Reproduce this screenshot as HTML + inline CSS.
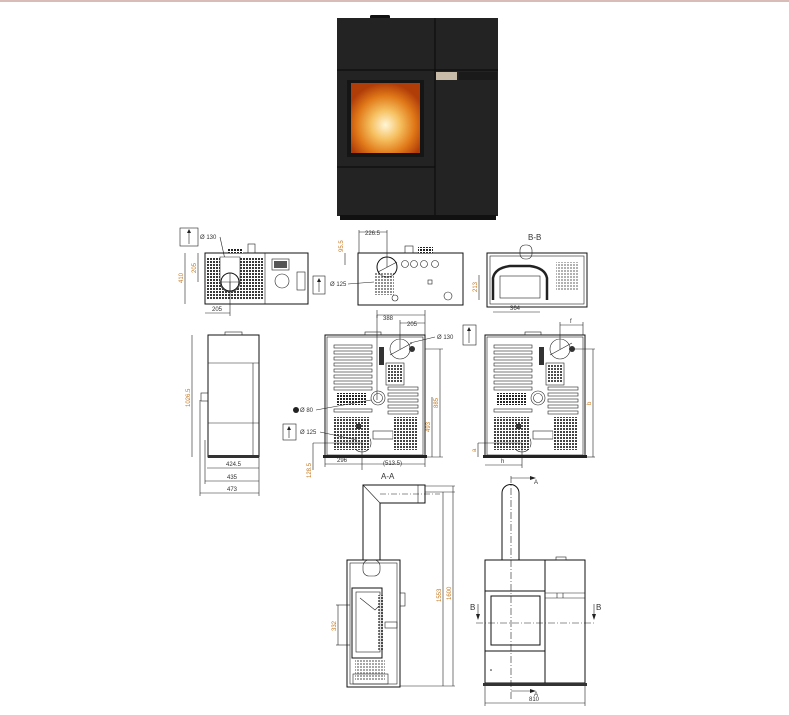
<!DOCTYPE html>
<html><head><meta charset="utf-8"><style>
html,body{margin:0;padding:0;background:#fff;}
svg{display:block;font-family:"Liberation Sans",sans-serif;}
.d{stroke:#222;stroke-width:0.6;fill:none}
.b{stroke:#111;stroke-width:1;fill:none}
.t{font-size:6px;fill:#333}
.o{font-size:6px;fill:#c87a20}
</style></head><body>
<svg width="789" height="715" viewBox="0 0 789 715" xmlns="http://www.w3.org/2000/svg">
<defs>
<radialGradient id="fire" cx="50%" cy="60%" r="60%">
<stop offset="0" stop-color="#fff6d8"/><stop offset="0.35" stop-color="#f6c060"/><stop offset="0.7" stop-color="#e07818"/><stop offset="1" stop-color="#b03c08"/>
</radialGradient>
<pattern id="grl" width="3" height="3" patternUnits="userSpaceOnUse"><rect width="3" height="3" fill="#fff"/><rect width="2" height="2" fill="#222"/></pattern>
<g id="back">
 <rect x="0" y="0" width="100" height="122" class="b" stroke-width="1.3"/>
 <rect x="2" y="2" width="96" height="118" class="d"/>
 <rect x="40" y="-3" width="16" height="3" class="d"/>
 <g class="d">
  <rect x="9" y="10" width="38" height="3"/><rect x="9" y="16" width="38" height="3"/><rect x="9" y="22" width="38" height="3"/><rect x="9" y="28" width="38" height="3"/><rect x="9" y="34" width="38" height="3"/><rect x="9" y="40" width="38" height="3"/><rect x="9" y="46" width="38" height="3"/><rect x="9" y="52" width="38" height="3"/><rect x="9" y="74" width="38" height="3"/>
  <rect x="63" y="52" width="30" height="3"/><rect x="63" y="58" width="30" height="3"/><rect x="63" y="64" width="30" height="3"/><rect x="63" y="70" width="30" height="3"/><rect x="63" y="76" width="30" height="3"/>
  <rect x="61" y="28" width="18" height="22"/>
  <circle cx="75" cy="14" r="10"/><circle cx="53" cy="63" r="7"/><circle cx="53" cy="63" r="4.5"/><circle cx="37" cy="108" r="9"/>
  <line x1="65" y1="20" x2="87" y2="8"/><line x1="30" y1="108" x2="44" y2="108"/>
  <rect x="48" y="96" width="20" height="8"/>
 </g>
 <rect x="54" y="12" width="5" height="18" fill="#333"/>
 <rect x="62" y="30" width="16" height="18" fill="url(#grl)" opacity="0.8"/>
 <rect x="12" y="58" width="30" height="12" fill="url(#grl)"/>
 <rect x="8" y="82" width="37" height="33" fill="url(#grl)" opacity="0.85"/>
 <rect x="68" y="82" width="25" height="33" fill="url(#grl)" opacity="0.85"/>
 <rect x="31" y="89" width="5" height="5" fill="#333"/>
 <circle cx="87" cy="14" r="3" fill="#333"/>
 <rect x="-2" y="120" width="104" height="3" fill="#222"/>
</g>
</defs>
<rect x="0" y="0" width="789" height="2" fill="#d9bcb8"/>

<!-- photo -->
<rect x="370" y="15" width="20" height="4" rx="1.5" fill="#111"/>
<rect x="337" y="18" width="161" height="198" fill="#232323"/>
<line x1="337" y1="70" x2="498" y2="70" stroke="#0d0d0d" stroke-width="1.2"/>
<line x1="435" y1="18" x2="435" y2="216" stroke="#0d0d0d" stroke-width="1.2"/>
<line x1="337" y1="167" x2="435" y2="167" stroke="#0d0d0d" stroke-width="1.2"/>
<rect x="347" y="80" width="77" height="77" fill="#151515"/>
<rect x="351" y="83" width="69" height="70" fill="url(#fire)"/>
<rect x="436" y="72" width="21" height="8" fill="#c8bca8"/>
<rect x="459" y="72" width="38" height="8" fill="#1a1a1a"/>
<rect x="340" y="215" width="156" height="5" fill="#111"/>

<!-- top view 1 -->
<g>
<rect x="180" y="228" width="18" height="18" class="d"/><line x1="189" y1="244" x2="189" y2="231" class="d"/><path d="M187 233 L189 229 L191 233Z" fill="#222"/>
<text x="200" y="239" class="t">Ø 130</text><line x1="220" y1="237" x2="230" y2="282" class="d"/>
<rect x="205" y="253" width="103" height="51" class="b"/>
<rect x="207" y="257" width="56" height="43" fill="url(#grl)" opacity="0.9"/>
<path d="M220 257 L220 282 A10 10 0 0 0 240 282 L240 257Z" fill="#fff" stroke="#222" stroke-width="0.6"/>
<circle cx="230" cy="282" r="9" fill="#fff" stroke="#111"/><line x1="221" y1="282" x2="239" y2="282" class="d"/><line x1="230" y1="273" x2="230" y2="291" class="d"/>
<line x1="265" y1="253" x2="265" y2="304" class="d"/>
<rect x="272" y="259" width="17" height="11" class="d"/><rect x="274" y="261" width="13" height="7" fill="#555"/>
<circle cx="282" cy="281" r="7" class="d"/><rect x="297" y="272" width="8" height="18" class="d"/>
<rect x="228" y="248" width="15" height="5" fill="url(#grl)"/><rect x="248" y="244" width="7" height="9" class="d"/>
<line x1="185" y1="253" x2="185" y2="304" class="d"/><text transform="translate(183,283) rotate(-90)" class="o">410</text>
<line x1="198" y1="253" x2="198" y2="282" class="d"/><text transform="translate(196,273) rotate(-90)" class="o">205</text>
<line x1="205" y1="313" x2="230" y2="313" class="d"/><line x1="230" y1="282" x2="230" y2="316" class="d"/><text x="212" y="311" class="t">205</text>
</g>

<!-- top view 2 -->
<g>
<rect x="358" y="253" width="105" height="52" class="b"/>
<circle cx="387" cy="267" r="10" class="b"/><line x1="378" y1="272" x2="397" y2="262" class="d"/>
<rect x="374" y="273" width="20" height="22" fill="url(#grl)" opacity="0.5"/>
<circle cx="405" cy="264" r="3.5" class="d"/><circle cx="414" cy="264" r="3.5" class="d"/><circle cx="424" cy="264" r="3.5" class="d"/><circle cx="435" cy="264" r="3.5" class="d"/>
<circle cx="395" cy="298" r="3" class="d"/><circle cx="448" cy="296" r="4" class="d"/><rect x="428" y="280" width="4" height="4" class="d"/>
<rect x="405" y="246" width="8" height="7" class="d"/><rect x="418" y="247" width="15" height="6" fill="url(#grl)"/>
<line x1="359" y1="232" x2="387" y2="232" class="d"/><line x1="359" y1="230" x2="359" y2="253" class="d"/><line x1="387" y1="230" x2="387" y2="267" class="d"/><text x="365" y="235" class="t">226.5</text>
<line x1="345" y1="253" x2="345" y2="265" class="d"/><text transform="translate(343,252) rotate(-90)" class="o">95.5</text>
<rect x="313" y="276" width="12" height="18" class="d"/><line x1="319" y1="292" x2="319" y2="280" class="d"/><path d="M317 282 L319 278 L321 282Z" fill="#222"/>
<text x="330" y="286" class="t">Ø 125</text><line x1="348" y1="284" x2="374" y2="282" class="d"/>
<line x1="377" y1="315" x2="425" y2="315" class="d"/><line x1="377" y1="310" x2="377" y2="318" class="d"/><line x1="425" y1="310" x2="425" y2="318" class="d"/>
</g>

<!-- B-B -->
<g>
<text x="528" y="240" font-size="8" fill="#333">B-B</text>
<rect x="487" y="253" width="100" height="54" class="b"/>
<rect x="490" y="256" width="94" height="48" class="d"/>
<path d="M493 300 L493 278 Q495 268 510 266 L530 266 Q545 268 547 278 L547 300" fill="none" stroke="#222" stroke-width="2.5"/>
<rect x="500" y="276" width="40" height="22" class="d"/>
<rect x="520" y="245" width="12" height="14" rx="5" class="d"/>
<rect x="556" y="262" width="22" height="28" fill="url(#grl)" opacity="0.35"/>
<line x1="479" y1="275" x2="479" y2="300" class="d"/><text transform="translate(477,292) rotate(-90)" class="o">213</text>
<line x1="493" y1="312" x2="540" y2="312" class="d"/><text x="510" y="310" class="t">364</text>
</g>

<!-- side view -->
<g>
<rect x="208" y="335" width="51" height="122" class="b"/>
<rect x="225" y="332" width="17" height="3" class="d"/>
<line x1="208" y1="363" x2="259" y2="363" class="d"/><line x1="208" y1="423" x2="259" y2="423" class="d"/>
<line x1="253" y1="363" x2="253" y2="457" class="d"/>
<rect x="201" y="393" width="7" height="8" class="d"/>
<rect x="208" y="455" width="51" height="3" fill="#333"/>
<line x1="192" y1="335" x2="192" y2="457" class="d"/><text transform="translate(190,407) rotate(-90)" class="o">1026.5</text>
<line x1="207" y1="468" x2="259" y2="468" class="d"/><text x="226" y="466" class="t">424.5</text>
<line x1="205" y1="481" x2="259" y2="481" class="d"/><text x="227" y="479" class="t">435</text>
<line x1="200" y1="493" x2="259" y2="493" class="d"/><text x="227" y="491" class="t">473</text>
<line x1="200" y1="400" x2="200" y2="496" class="d"/><line x1="205" y1="440" x2="205" y2="484" class="d"/><line x1="259" y1="458" x2="259" y2="496" class="d"/>
</g>

<!-- back views -->
<use href="#back" x="325" y="335"/>
<use href="#back" x="485" y="335"/>
<g>
<line x1="377" y1="315" x2="377" y2="400" class="d"/>
<line x1="400" y1="323" x2="425" y2="323" class="d"/><line x1="400" y1="320" x2="400" y2="349" class="d"/><line x1="425" y1="318" x2="425" y2="335" class="d"/><text x="407" y="326" class="t">205</text>
<text x="383" y="320" class="t">388</text>
<text x="437" y="339" class="t">Ø 130</text><line x1="435" y1="337" x2="410" y2="343" class="d"/>
<rect x="463" y="325" width="13" height="20" class="d"/><line x1="469" y1="343" x2="469" y2="329" class="d"/><path d="M467 331 L469 327 L471 331Z" fill="#222"/>
<line x1="440" y1="349" x2="440" y2="457" class="d"/><line x1="425" y1="349" x2="443" y2="349" class="d"/><text transform="translate(438,408) rotate(-90)" class="o">885</text>
<line x1="432" y1="397" x2="432" y2="457" class="d"/><text transform="translate(430,432) rotate(-90)" class="o">493</text>
<line x1="425" y1="457" x2="443" y2="457" class="d"/>
<circle cx="296" cy="410" r="3" fill="#222"/><text x="300" y="412" class="t">Ø 80</text><line x1="316" y1="410" x2="371" y2="400" class="d"/>
<rect x="283" y="424" width="13" height="16" class="d"/><line x1="289" y1="438" x2="289" y2="428" class="d"/><path d="M287 430 L289 426 L291 430Z" fill="#222"/>
<text x="300" y="434" class="t">Ø 125</text><line x1="320" y1="432" x2="357" y2="440" class="d"/>
<line x1="325" y1="464" x2="425" y2="464" class="d"/><line x1="362" y1="440" x2="362" y2="470" class="d"/><line x1="325" y1="458" x2="325" y2="467" class="d"/><line x1="425" y1="458" x2="425" y2="467" class="d"/>
<text x="337" y="462" class="t">296</text><text x="383" y="465" class="t">(513.5)</text>
<line x1="313" y1="443" x2="313" y2="470" class="d"/><line x1="313" y1="443" x2="362" y2="443" class="d"/><text transform="translate(311,478) rotate(-90)" class="o">128.5</text>
</g>
<g>
<line x1="560" y1="325" x2="583" y2="325" class="d"/><line x1="560" y1="322" x2="560" y2="349" class="d"/><line x1="583" y1="322" x2="583" y2="335" class="d"/><text x="570" y="323" class="t">f</text>
<line x1="593" y1="349" x2="593" y2="457" class="d"/><line x1="570" y1="349" x2="595" y2="349" class="d"/><line x1="583" y1="457" x2="595" y2="457" class="d"/><text transform="translate(591,405) rotate(-90)" class="o">b</text>
<line x1="478" y1="443" x2="478" y2="457" class="d"/><line x1="478" y1="443" x2="522" y2="443" class="d"/><text transform="translate(476,452) rotate(-90)" class="o">a</text>
<line x1="485" y1="465" x2="522" y2="465" class="d"/><line x1="522" y1="443" x2="522" y2="468" class="d"/><text x="501" y="463" class="t">h</text>
</g>

<!-- A-A section -->
<g>
<text x="381" y="479" font-size="8" fill="#333">A-A</text>
<path d="M363 560 L363 485 L425 485 L425 503 L380 503 L380 560" class="b"/>
<line x1="363" y1="485" x2="380" y2="503" class="d"/><line x1="418" y1="485" x2="418" y2="503" class="d"/>
<line x1="380" y1="494" x2="440" y2="494" stroke="#222" stroke-width="0.5" stroke-dasharray="6,2,1,2"/>
<rect x="347" y="560" width="53" height="127" class="b"/>
<rect x="350" y="563" width="47" height="121" class="d"/>
<rect x="363" y="560" width="17" height="16" rx="6" class="d"/>
<rect x="352" y="588" width="30" height="70" class="b" stroke-width="1.5"/>
<rect x="356" y="592" width="24" height="60" class="d"/>
<path d="M360 598 L375 610 L380 605" class="d"/>
<rect x="378" y="595" width="6" height="55" fill="url(#grl)" opacity="0.6"/>
<rect x="400" y="593" width="5" height="13" class="d"/>
<rect x="385" y="622" width="12" height="6" class="d"/>
<rect x="355" y="660" width="30" height="20" fill="url(#grl)" opacity="0.4"/>
<rect x="353" y="674" width="35" height="10" class="d"/>
<line x1="400" y1="686" x2="455" y2="686" class="d"/><line x1="425" y1="492" x2="455" y2="492" class="d"/><line x1="425" y1="486" x2="455" y2="486" class="d"/>
<line x1="443" y1="492" x2="443" y2="686" class="d"/><text transform="translate(441,602) rotate(-90)" class="o">1553</text>
<line x1="453" y1="486" x2="453" y2="686" class="d"/><text transform="translate(451,600) rotate(-90)" class="o">1600</text>
<line x1="338" y1="605" x2="338" y2="645" class="d"/><line x1="336" y1="605" x2="350" y2="605" class="d"/><line x1="336" y1="645" x2="350" y2="645" class="d"/><text transform="translate(336,631) rotate(-90)" class="o">332</text>
</g>

<!-- front view -->
<g>
<path d="M502 560 L502 493 A8.5 8.5 0 0 1 519 493 L519 560" class="b"/>
<rect x="485" y="560" width="100" height="123" class="b"/>
<line x1="545" y1="560" x2="545" y2="683" class="b"/>
<line x1="485" y1="591" x2="545" y2="591" class="b"/><line x1="485" y1="651" x2="545" y2="651" class="b"/>
<rect x="491" y="596" width="49" height="49" class="b"/>
<line x1="545" y1="593" x2="585" y2="593" class="d"/><line x1="545" y1="598" x2="585" y2="598" class="d"/><line x1="557" y1="593" x2="557" y2="598" class="d"/><line x1="563" y1="593" x2="563" y2="598" class="d"/>
<rect x="556" y="557" width="10" height="3" class="d"/>
<rect x="483" y="683" width="104" height="3" fill="#333"/>
<circle cx="491" cy="670" r="0.8" fill="#222"/>
<line x1="511" y1="476" x2="511" y2="700" stroke="#222" stroke-width="0.6" stroke-dasharray="7,2,1,2"/>
<line x1="476" y1="623" x2="596" y2="623" stroke="#222" stroke-width="0.6" stroke-dasharray="7,2,1,2"/>
<line x1="511" y1="478" x2="530" y2="478" class="d"/><path d="M530 476 L536 478 L530 480Z" fill="#222"/><text x="534" y="484" class="t" font-size="8">A</text>
<line x1="511" y1="691" x2="530" y2="691" class="d"/><path d="M530 689 L536 691 L530 693Z" fill="#222"/><text x="534" y="696" class="t" font-size="8">A</text>
<text x="470" y="610" font-size="8" fill="#333">B</text><line x1="478" y1="604" x2="478" y2="618" class="d"/><path d="M476 614 L478 620 L480 614Z" fill="#222"/>
<text x="596" y="610" font-size="8" fill="#333">B</text><line x1="594" y1="604" x2="594" y2="618" class="d"/><path d="M592 614 L594 620 L596 614Z" fill="#222"/>
<line x1="485" y1="703" x2="585" y2="703" class="d"/><line x1="485" y1="686" x2="485" y2="706" class="d"/><line x1="585" y1="686" x2="585" y2="706" class="d"/><text x="529" y="701" class="t">810</text>
</g>
</svg>
</body></html>
